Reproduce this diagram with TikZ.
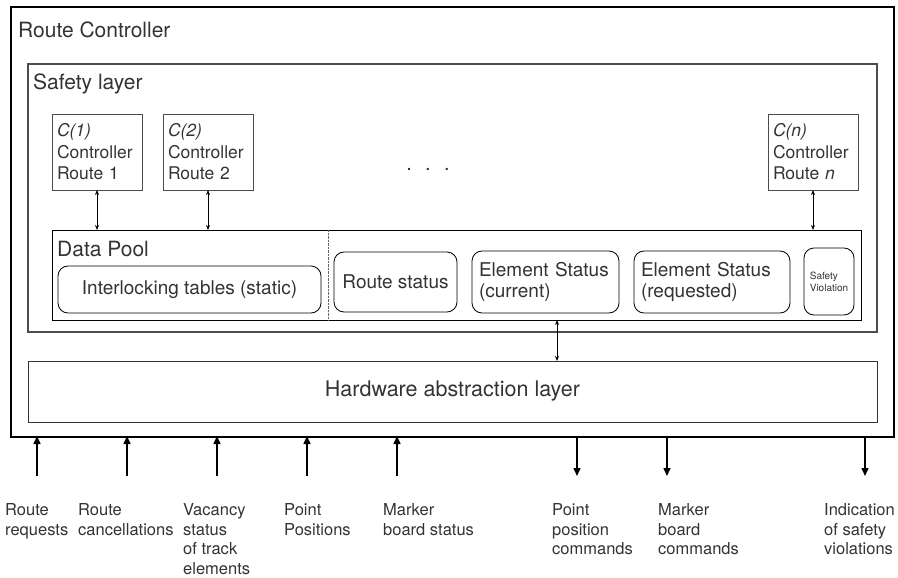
\documentclass[tikz,border=0pt]{standalone}
\usepackage{fontspec}
\setmainfont{TeX Gyre Heros}
\usetikzlibrary{arrows.meta}
\tikzset{
  box/.style={draw, anchor=north west, inner sep=0pt, outer sep=0pt},
  ctrlbox/.style={box, draw=black!70, line width=0.9pt, align=left, inner sep=5pt,
    text width=80pt, minimum width=90pt, minimum height=76pt, font=\fontsize{17.5}{21.5}\selectfont},
  itembox/.style={box, rounded corners=10pt, line width=0.8pt, font=\fontsize{19}{21.5}\selectfont},
  iolabel/.style={anchor=north west, inner sep=0pt, align=left, font=\fontsize{16.5}{19.8}\selectfont},
  biarrow/.style={{Stealth[length=5pt,width=4pt]}-{Stealth[length=5pt,width=4pt]}, line width=0.8pt},
  ioarrow/.style={-{Triangle[length=8pt,width=7pt]}, line width=1.5pt}
}
\begin{document}
\begin{tikzpicture}[x=1pt,y=-1pt,text=black!80]
\useasboundingbox (0,0) rectangle (898,578);
% outer frame and layers
\node[box, line width=2pt, minimum width=883pt, minimum height=430pt] (rc) at (11,7) {};
\node[anchor=base west, inner sep=0pt, font=\fontsize{21}{24}\selectfont] (rctitle) at (18,38) {Route Controller};
\node[box, draw=black!70, line width=1.2pt, minimum width=849pt, minimum height=268pt] (safety) at (28,64) {};
\node[anchor=base west, inner sep=0pt, font=\fontsize{21}{24}\selectfont] (safetytitle) at (33,89) {Safety layer};
\node[box, draw=black!80, line width=1pt, minimum width=849pt, minimum height=61pt,
  font=\fontsize{21.5}{24}\selectfont] (hw) at (28,361) {Hardware abstraction layer};
% controllers
\node[ctrlbox] (c1) at (52,114) {\textit{C(1)}\\Controller\\Route 1};
\node[ctrlbox] (c2) at (163,114) {\textit{C(2)}\\Controller\\Route 2};
\node[ctrlbox] (cn) at (768,114) {\textit{C(n)}\\Controller\\Route \textit{n}};
\node[anchor=base, inner sep=0pt, font=\fontsize{20}{24}\selectfont] (dots) at (428,171) {.\hspace{13.4pt}.\hspace{13.4pt}.};
% data pool
\node[box, line width=1pt, minimum width=809pt, minimum height=90pt] (pool) at (52,230) {};
\node[anchor=base west, inner sep=0pt, font=\fontsize{21}{24}\selectfont] (pooltitle) at (57,256) {Data Pool};
\draw[densely dotted, black!60] ([xshift=276pt]pool.north west) -- ([xshift=276pt]pool.south west);
\node[itembox, minimum width=263pt, minimum height=47pt] (tables) at (58,266) {Interlocking tables (static)};
\node[itembox, minimum width=123pt, minimum height=60pt] (rstatus) at (334,252) {Route status};
\node[itembox, minimum width=147pt, minimum height=62pt, align=left, text width=133pt] (ecur) at (472,251) {Element Status\\(current)};
\node[itembox, minimum width=156pt, minimum height=62pt, align=left, text width=142pt] (ereq) at (634,251) {Element Status\\(requested)};
\node[itembox, minimum width=50pt, minimum height=67pt, align=left, font=\fontsize{10}{12}\selectfont] (sviol) at (804,248) {Safety\\Violation};
% connections
\foreach \c in {c1,c2,cn}
  \draw[biarrow] (\c.south) -- (\c.south |- pool.north);
\coordinate (hal) at (557,0);
\draw[biarrow] (pool.south -| hal) -- (hw.north -| hal);
% inputs and outputs
\foreach \x [count=\i] in {37,127,217,307,397} {
  \coordinate (in\i) at (\x,476);
  \draw[ioarrow] (in\i) -- ([yshift=1pt]in\i |- rc.south);
}
\foreach \x [count=\i] in {577,667,865} {
  \coordinate (out\i) at (\x,476);
  \draw[ioarrow] ([yshift=1pt]out\i |- rc.south) -- (out\i);
}
\node[iolabel] (l1) at (5,503) {Route\\requests};
\node[iolabel] (l2) at (78,503) {Route\\cancellations};
\node[iolabel] (l3) at (183,503) {Vacancy\\status\\of track\\elements};
\node[iolabel] (l4) at (284,503) {Point\\Positions};
\node[iolabel] (l5) at (383,503) {Marker\\board status};
\node[iolabel] (l6) at (552,503) {Point\\position\\commands};
\node[iolabel] (l7) at (658,503) {Marker\\board\\commands};
\node[iolabel] (l8) at (824,503) {Indication\\of safety\\violations};
\end{tikzpicture}
\end{document}
